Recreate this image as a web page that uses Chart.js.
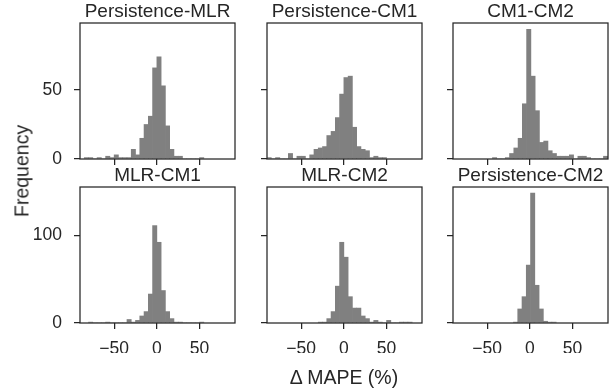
<!DOCTYPE html>
<html>
<head>
<meta charset="utf-8">
<script src="https://cdn.jsdelivr.net/npm/chart.js@4"></script>
<style>
  body { margin: 0; background: #fff; }
  #wrap { position: relative; width: 611px; height: 388px; font-family: "Liberation Sans", Arial, sans-serif; color: #262626; }
  canvas { position: absolute; }
  .lbl { position: absolute; font-size: 19.5px; white-space: nowrap; }
</style>
</head>
<body>
<div id="wrap">
  <canvas id="c0" width="225" height="189" style="left:20px;top:0px"></canvas>
  <canvas id="c1" width="225" height="189" style="left:207px;top:0px"></canvas>
  <canvas id="c2" width="225" height="189" style="left:393px;top:0px"></canvas>
  <canvas id="c3" width="225" height="189" style="left:20px;top:164px"></canvas>
  <canvas id="c4" width="225" height="189" style="left:207px;top:164px"></canvas>
  <canvas id="c5" width="225" height="189" style="left:393px;top:164px"></canvas>
  <div class="lbl" style="left:22px;top:171px;transform:translate(-50%,-50%) rotate(-90deg)">Frequency</div>
  <div class="lbl" style="left:344px;top:377px;transform:translate(-50%,-50%)">Δ MAPE (%)</div>
</div>
<script>
const panelTitles = ["Persistence-MLR", "Persistence-CM1", "CM1-CM2", "MLR-CM1", "MLR-CM2", "Persistence-CM2"];
const binWidth = 5;
const binStarts = [-85, -90, -43.8, -80, -30, -19.2];

const countsPersMLR = [1, 1, 0, 1, 0, 2, 1, 3, 1, 1, 1, 7, 3, 15, 25, 31, 66, 74, 53, 24, 7, 2, 2, 0, 0, 0, 0, 1];
const countsPersCM1 = [1, 0, 1, 0, 0, 4, 0, 2, 2, 0, 3, 7, 8, 9, 17, 20, 30, 47, 59, 60, 23, 9, 7, 6, 1, 2, 1, 1];
const countsCM1CM2 = [1, 0, 0, 1, 4, 8, 15, 40, 94, 60, 35, 12, 13, 6, 4, 2, 2, 2, 3, 0, 2, 2, 1, 0, 0, 0, 2];
const countsMLRCM1 = [1, 0, 0, 0, 1, 0, 0, 0, 0, 4, 1, 3, 8, 13, 33, 111, 92, 37, 13, 5, 1, 1, 0, 0, 0, 0, 1];
const countsMLRCM2 = [1, 1, 5, 13, 42, 92, 75, 30, 17, 17, 8, 5, 1, 3, 1, 0, 3, 0, 0, 1, 1, 1];
const countsPersCM2 = [1, 16, 30, 66, 148, 43, 16, 2, 1, 1];

const allCounts = [countsPersMLR, countsPersCM1, countsCM1CM2, countsMLRCM1, countsMLRCM2, countsPersCM2];

const xTicks = [-50, 0, 50];
const yTicksTop = [0, 50];
const yTicksBottom = [0, 100];
const xMin = -90, xMax = 91.5;
const yMaxTop = 98.5, yMaxBottom = 155;

const ink = "#262626";
const barColor = "#808080";
const fontFamily = "'Liberation Sans', Arial, sans-serif";

// box around the plot area + title centred over it
const frame = {
  id: "frame",
  afterDatasetsDraw(chart, args, opts) {
    const a = chart.chartArea;
    const ctx = chart.ctx;
    ctx.save();
    ctx.strokeStyle = ink;
    ctx.lineWidth = 1.25;
    ctx.strokeRect(a.left, a.top, a.right - a.left, a.bottom - a.top);
    ctx.fillStyle = ink;
    ctx.font = "19px " + fontFamily;
    ctx.textAlign = "center";
    ctx.textBaseline = "middle";
    ctx.fillText(opts.text, (a.left + a.right) / 2, a.top - 11);
    ctx.restore();
  }
};

function makePanel(i) {
  const topRow = i < 3;
  const leftCol = i % 3 === 0;
  const counts = allCounts[i];
  const points = counts.map((c, k) => ({ x: binStarts[i] + binWidth * (k + 0.5), y: c }));
  const yTicks = topRow ? yTicksTop : yTicksBottom;

  new Chart(document.getElementById("c" + i), {
    type: "bar",
    data: {
      datasets: [{
        data: points,
        backgroundColor: barColor,
        borderWidth: 0,
        barPercentage: 1,
        categoryPercentage: 1
      }]
    },
    options: {
      responsive: false,
      animation: false,
      layout: { padding: { left: 0, top: 23, right: 10, bottom: 0 } },
      plugins: {
        legend: { display: false },
        tooltip: { enabled: false },
        frame: { text: panelTitles[i] }
      },
      scales: {
        x: {
          type: "linear",
          min: xMin,
          max: xMax,
          offset: false,
          afterBuildTicks: s => { s.ticks = xTicks.map(v => ({ value: v })); },
          afterFit: s => { s.height = 30; },
          grid: { offset: false, drawOnChartArea: false, drawTicks: true, tickLength: 6, color: ink, lineWidth: 1.25 },
          border: { display: false },
          ticks: {
            display: !topRow,
            color: ink,
            padding: 10,
            maxRotation: 0,
            font: { family: fontFamily, size: 17.5 },
            callback: v => String(v).replace("-", "\u2212")
          }
        },
        y: {
          min: 0,
          max: topRow ? yMaxTop : yMaxBottom,
          afterBuildTicks: s => { s.ticks = yTicks.map(v => ({ value: v })); },
          afterFit: s => { s.width = 60; },
          grid: { drawOnChartArea: false, drawTicks: true, tickLength: 6, color: ink, lineWidth: 1.25 },
          border: { display: false },
          ticks: {
            display: leftCol,
            color: ink,
            padding: 12,
            font: { family: fontFamily, size: 17.5 }
          }
        }
      }
    },
    plugins: [frame]
  });
}

for (let i = 0; i < 6; i++) makePanel(i);
</script>
</body>
</html>
